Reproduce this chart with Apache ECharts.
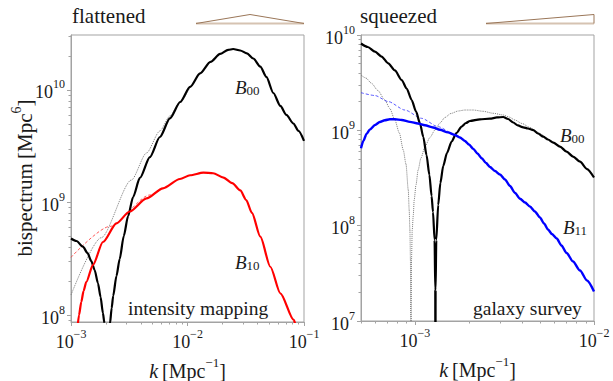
<!DOCTYPE html>
<html>
<head>
<meta charset="utf-8">
<script src="https://cdn.jsdelivr.net/npm/echarts@6.0.0/dist/echarts.min.js"></script>
<style>
html, body { margin: 0; padding: 0; background: #fff; }
#chart { width: 613px; height: 381px; }
</style>
</head>
<body>
<div id="chart"></div>
<script>
// ---- left panel: flattened, intensity mapping ----
var flatK00 = [1.000e-3, 1.114e-3, 1.265e-3, 1.387e-3, 1.493e-3, 1.596e-3, 1.704e-3, 1.795e-3, 1.879e-3, 1.936e-3,
  2.042e-3, 2.158e-3, 2.234e-3, 2.301e-3, 2.455e-3, 2.618e-3, 2.838e-3, 3.090e-3, 3.412e-3, 3.899e-3,
  4.753e-3, 5.794e-3, 7.063e-3, 8.650e-3, 1.052e-2, 1.282e-2, 1.574e-2, 1.905e-2, 2.234e-2, 2.466e-2,
  2.838e-2, 3.236e-2, 3.673e-2, 4.217e-2, 4.753e-2, 5.458e-2, 6.266e-2, 7.063e-2, 8.110e-2, 8.974e-2, 1.0e-1]
var flatB00 = [4.786e8, 4.550e8, 4.046e8, 3.556e8, 3.020e8, 2.512e8, 1.914e8, 1.445e8, 1.042e8, 0.849e8,
  1e6, 0.832e8, 1.153e8, 1.476e8, 2.223e8, 3.148e8, 5.035e8, 7.586e8, 1.119e9, 1.652e9,
  2.535e9, 3.819e9, 5.585e9, 7.816e9, 1.064e10, 1.403e10, 1.774e10, 2.089e10, 2.270e10, 2.312e10,
  2.244e10, 2.118e10, 1.905e10, 1.611e10, 1.306e10, 9.397e9, 7.211e9, 5.998e9, 5.035e9, 4.325e9, 3.524e9]
var flatK00approx = [1.0e-3, 1.816e-3, 3.304e-3, 4.446e-3, 5.794e-3, 7.063e-3, 8.650e-3, 1.052e-2]
var flatB00approx = [1.507e8, 4.864e8, 1.585e9, 2.754e9, 4.325e9, 5.875e9, 7.816e9, 1.064e10]
var flatK10 = [1.138e-3, 1.172e-3, 1.225e-3, 1.282e-3, 1.352e-3, 1.542e-3, 1.879e-3, 2.455e-3, 3.192e-3, 4.446e-3,
  6.152e-3, 8.610e-3, 1.052e-2, 1.368e-2, 1.660e-2, 2.037e-2, 2.421e-2, 2.838e-2, 3.192e-2, 3.573e-2,
  4.217e-2, 5.140e-2, 6.266e-2, 8.166e-2, 8.453e-2]
var flatB10 = [0.782e8, 1.0e8, 1.306e8, 1.633e8, 1.963e8, 2.780e8, 4.457e8, 6.531e8, 8.318e8, 1.086e9,
  1.337e9, 1.618e9, 1.746e9, 1.841e9, 1.820e9, 1.667e9, 1.489e9, 1.279e9, 1.052e9, 8.072e8,
  4.966e8, 2.685e8, 1.560e8, 0.904e8, 0.815e8]
var flatK10approx = [1.0e-3, 2.148e-3, 4.753e-3, 6.152e-3]
var flatB10approx = [3.258e8, 6.124e8, 1.167e9, 1.337e9]

// ---- right panel: squeezed, galaxy survey ----
var sqzK00 = [5.0e-4, 5.458e-4, 5.984e-4, 6.516e-4, 7.096e-4, 7.727e-4, 8.433e-4, 8.995e-4, 9.594e-4, 1.014e-3,
  1.067e-3, 1.114e-3, 1.161e-3, 1.205e-3, 1.239e-3, 1.262e-3, 1.288e-3, 1.2995e-3, 1.302e-3, 1.3045e-3,
  1.316e-3, 1.349e-3, 1.387e-3, 1.439e-3, 1.510e-3, 1.603e-3, 1.706e-3, 1.824e-3, 1.928e-3, 2.028e-3,
  2.307e-3, 2.624e-3, 2.871e-3, 3.112e-3, 3.311e-3, 3.540e-3, 3.758e-3, 4.027e-3, 4.276e-3, 4.581e-3,
  4.864e-3, 5.212e-3, 5.534e-3, 5.929e-3, 6.457e-3, 7.031e-3, 7.638e-3, 8.356e-3, 9.141e-3, 1.0e-2]
var sqzB00 = [8.147e9, 7.482e9, 6.683e9, 5.943e9, 5.047e9, 4.246e9, 3.373e9, 2.748e9, 2.080e9, 1.578e9,
  1.186e9, 8.511e8, 5.508e8, 3.396e8, 2.046e8, 1.390e8, 7.063e7, 2.113e7, 1e5, 2.113e7,
  7.063e7, 1.648e8, 2.799e8, 4.227e8, 5.781e8, 7.638e8, 9.376e8, 1.096e9, 1.194e9, 1.253e9,
  1.306e9, 1.324e9, 1.365e9, 1.380e9, 1.315e9, 1.208e9, 1.125e9, 1.076e9, 1.045e9, 1.007e9,
  9.268e8, 8.570e8, 8.017e8, 7.447e8, 6.761e8, 5.970e8, 5.309e8, 4.688e8, 3.926e8, 3.199e8]
var sqzK00approx = [5.0e-4, 5.321e-4, 5.728e-4, 6.209e-4, 6.792e-4, 7.244e-4, 7.727e-4, 8.185e-4, 8.610e-4, 8.913e-4,
  9.183e-4, 9.290e-4, 9.376e-4, 9.441e-4, 9.506e-4, 9.572e-4, 9.661e-4, 9.795e-4, 9.908e-4, 1.014e-3,
  1.042e-3, 1.081e-3, 1.138e-3, 1.213e-3, 1.294e-3, 1.380e-3, 1.472e-3, 1.589e-3, 1.746e-3, 1.901e-3,
  2.118e-3, 2.399e-3, 2.735e-3, 3.112e-3, 3.350e-3, 3.622e-3, 3.963e-3, 4.385e-3, 4.808e-3, 5.321e-3]
var sqzB00approx = [3.802e9, 3.540e9, 3.112e9, 2.618e9, 2.080e9, 1.694e9, 1.282e9, 9.376e8, 6.223e8, 4.436e8,
  2.366e8, 1.459e8, 9.016e7, 4.365e7, 1e5, 4.365e7, 9.016e7, 1.294e8, 1.858e8, 2.673e8,
  3.837e8, 5.129e8, 6.730e8, 8.414e8, 1.007e9, 1.194e9, 1.365e9, 1.503e9, 1.596e9, 1.633e9,
  1.633e9, 1.585e9, 1.510e9, 1.449e9, 1.380e9, 1.282e9, 1.180e9, 1.072e9, 9.594e8, 8.511e8]
var sqzK11 = [5.0e-4, 5.152e-4, 5.370e-4, 5.610e-4, 5.984e-4, 6.368e-4, 6.792e-4, 7.244e-4, 7.727e-4, 8.453e-4,
  9.376e-4, 1.040e-3, 1.138e-3, 1.262e-3, 1.380e-3, 1.528e-3, 1.671e-3, 1.782e-3, 1.901e-3, 2.004e-3,
  2.118e-3, 2.234e-3, 2.360e-3, 2.495e-3, 2.624e-3, 2.799e-3, 2.985e-3, 3.184e-3, 3.396e-3, 3.622e-3,
  3.864e-3, 4.121e-3, 4.385e-3, 4.677e-3, 4.989e-3, 5.260e-3, 5.534e-3, 5.821e-3, 6.194e-3, 6.577e-3,
  7.031e-3, 7.638e-3, 8.356e-3, 9.141e-3, 1.0e-2]
var sqzB11 = [6.486e8, 7.727e8, 9.162e8, 1.021e9, 1.138e9, 1.222e9, 1.276e9, 1.306e9, 1.309e9, 1.282e9,
  1.227e9, 1.178e9, 1.130e9, 1.072e9, 1.014e9, 9.528e8, 8.933e8, 8.414e8, 7.727e8, 7.096e8,
  6.397e8, 5.715e8, 5.093e8, 4.539e8, 4.121e8, 3.741e8, 3.443e8, 3.048e8, 2.606e8, 2.203e8,
  1.914e8, 1.750e8, 1.589e8, 1.409e8, 1.219e8, 1.054e8, 9.120e7, 8.166e7, 7.328e7, 6.194e7,
  5.164e7, 4.207e7, 3.381e7, 2.655e7, 2.037e7]
var sqzK11approx = [5.0e-4, 5.984e-4, 7.096e-4, 8.790e-4, 1.089e-3, 1.349e-3, 1.671e-3, 1.901e-3]
var sqzB11approx = [2.483e9, 2.317e9, 2.004e9, 1.633e9, 1.337e9, 1.091e9, 9.036e8, 7.816e8]

// ---- axes ----
var flatXRange = [1e-3, 1e-1]
var flatYRange = [0.867e8, 3.08e10]
var sqzXRange = [5e-4, 1e-2]
var sqzYRange = [1e7, 1e10]
var flatXMajor = [1e-3, 1e-2, 1e-1]
var flatYMajor = [1e8, 1e9, 1e10]
var sqzXMajor = [1e-3, 1e-2]
var sqzYMajor = [1e7, 1e8, 1e9, 1e10]

var serif = 'Liberation Serif'
var ink = '#1a1a1a'
var frame = '#a3a3a3'

function pairs (ks, bs) {
  return ks.map(function (k, i) { return [k, bs[i]] })
}

// minor ticks 2..9 x 10^n that lie inside the range
function minorTicks (range) {
  var out = []
  var lo = Math.floor(Math.log10(range[0]))
  var hi = Math.ceil(Math.log10(range[1]))
  for (var e = lo; e < hi; e++) {
    for (var m = 2; m <= 9; m++) {
      var v = m * Math.pow(10, e)
      if (v >= range[0] && v <= range[1]) out.push(v)
    }
  }
  return out
}

function powLabel (v) {
  var l = Math.log10(v)
  var e = Math.round(l)
  if (Math.abs(l - e) > 1e-6) return ''
  return '{b|10}{s|' + (e < 0 ? '\u2212' + (-e) : e) + '}'
}

var tickRich = {
  b: { fontFamily: serif, fontSize: 18, color: ink, padding: [5, 0, 0, 0] },
  s: { fontFamily: serif, fontSize: 12, color: ink, verticalAlign: 'top' }
}
var nameRich = {
  i: { fontFamily: serif, fontSize: 20, fontStyle: 'italic', color: ink, padding: [5, 0, 0, 0] },
  r: { fontFamily: serif, fontSize: 20, color: ink, padding: [5, 0, 0, 0] },
  s: { fontFamily: serif, fontSize: 13, color: ink, verticalAlign: 'top' }
}
var subRich = {
  i: { fontFamily: serif, fontSize: 19, fontStyle: 'italic', fill: ink },
  d: { fontFamily: serif, fontSize: 13, fill: ink, verticalAlign: 'bottom', padding: [6, 0, 0, 0] }
}

function mainAxis (grid, range, major, pos, extra) {
  var a = {
    type: 'log', logBase: 10, gridIndex: grid, position: pos,
    min: range[0], max: range[1],
    axisLine: { show: true, lineStyle: { color: frame, width: 1 } },
    axisTick: { show: true, inside: false, length: 4, customValues: major, lineStyle: { color: frame } },
    axisLabel: { customValues: major, formatter: powLabel, rich: tickRich, margin: 6 },
    splitLine: { show: false },
    minorTick: { show: false }
  }
  for (var key in extra) a[key] = extra[key]
  return a
}
function minorAxis (grid, range, pos) {
  return {
    type: 'log', logBase: 10, gridIndex: grid, position: pos,
    min: range[0], max: range[1],
    axisLine: { show: false },
    axisTick: { show: true, inside: false, length: 2.5, customValues: minorTicks(range), lineStyle: { color: frame } },
    axisLabel: { show: false },
    splitLine: { show: false }
  }
}

function curve (name, data, xi, yi, color, width, type) {
  return {
    name: name, type: 'line', xAxisIndex: xi, yAxisIndex: yi,
    data: data, showSymbol: false, symbol: 'none', clip: true,
    smooth: 0.25, smoothMonotone: 'x',
    lineStyle: { color: color, width: width, type: type || 'solid' },
    z: type ? 2 : 3
  }
}

var kName = '{i|k}{r|\u2009[Mpc}{s|\u22121}{r|]}'

var chart = echarts.init(document.getElementById('chart'), null, { renderer: 'svg' })
chart.setOption({
  animation: false,
  backgroundColor: '#fff',
  grid: [
    { left: 71, top: 35, width: 233, height: 287, show: true, borderColor: frame, borderWidth: 1, containLabel: false, outerBoundsMode: 'none' },
    { left: 361, top: 35, width: 233, height: 286, show: true, borderColor: frame, borderWidth: 1, containLabel: false, outerBoundsMode: 'none' }
  ],
  xAxis: [
    mainAxis(0, flatXRange, flatXMajor, 'bottom', {
      name: kName, nameLocation: 'middle', nameGap: 30, nameTextStyle: { rich: nameRich }
    }),
    minorAxis(0, flatXRange, 'bottom'),
    mainAxis(1, sqzXRange, sqzXMajor, 'bottom', {
      name: kName, nameLocation: 'middle', nameGap: 30, nameTextStyle: { rich: nameRich }
    }),
    minorAxis(1, sqzXRange, 'bottom')
  ],
  yAxis: [
    mainAxis(0, flatYRange, flatYMajor, 'left', {}),
    minorAxis(0, flatYRange, 'left'),
    mainAxis(1, sqzYRange, sqzYMajor, 'left', {}),
    minorAxis(1, sqzYRange, 'left')
  ],
  series: [
    curve('B00 approx', pairs(flatK00approx, flatB00approx), 0, 0, '#7a7a7a', 1, 'dotted'),
    curve('B10 approx', pairs(flatK10approx, flatB10approx), 0, 0, '#ff3030', 0.8, [3, 2]),
    curve('B00', pairs(flatK00, flatB00), 0, 0, '#000', 2.2),
    curve('B10', pairs(flatK10, flatB10), 0, 0, '#ff0000', 2.2),
    curve('B00 approx', pairs(sqzK00approx, sqzB00approx), 2, 2, '#7a7a7a', 1, 'dotted'),
    curve('B11 approx', pairs(sqzK11approx, sqzB11approx), 2, 2, '#3030ff', 0.8, [3, 2]),
    curve('B00', pairs(sqzK00, sqzB00), 2, 2, '#000', 2.2),
    curve('B11', pairs(sqzK11, sqzB11), 2, 2, '#0000ff', 2.4)
  ],
  graphic: [
    { type: 'text', x: 22, y: 178, rotation: Math.PI / 2, style: {
      text: '{r|bispectrum\u2009[Mpc}{s|6}{r|]}', align: 'center', verticalAlign: 'middle',
      rich: {
        r: { fontFamily: serif, fontSize: 21, fill: ink, padding: [5, 0, 0, 0] },
        s: { fontFamily: serif, fontSize: 14, fill: ink, verticalAlign: 'top' }
      } } },
    { type: 'text', left: 72, top: 5, style: { text: 'flattened', fontFamily: serif, fontSize: 21, fill: ink } },
    { type: 'text', left: 360, top: 5, style: { text: 'squeezed', fontFamily: serif, fontSize: 21, fill: ink } },
    { type: 'polyline', shape: { points: [[196, 23.5], [304, 23.5]] }, style: { stroke: '#d6c3b2', lineWidth: 2.2, fill: null } },
    { type: 'polyline', shape: { points: [[196, 23.5], [250, 14.5], [304, 23.5]] }, style: { stroke: '#9a7658', lineWidth: 1, fill: null } },
    { type: 'polyline', shape: { points: [[486, 23.5], [594, 23.5]] }, style: { stroke: '#d6c3b2', lineWidth: 2.2, fill: null } },
    { type: 'polyline', shape: { points: [[486, 23.5], [594, 14.5], [594, 23.5]] }, style: { stroke: '#9a7658', lineWidth: 1, fill: null } },
    { type: 'text', left: 235, top: 78, style: { text: '{i|B}{d|00}', rich: subRich } },
    { type: 'text', left: 235, top: 253, style: { text: '{i|B}{d|10}', rich: subRich } },
    { type: 'text', left: 128, top: 298, style: { text: 'intensity mapping', fontFamily: serif, fontSize: 19.5, fill: ink } },
    { type: 'text', left: 560, top: 126, style: { text: '{i|B}{d|00}', rich: subRich } },
    { type: 'text', left: 563, top: 218, style: { text: '{i|B}{d|11}', rich: subRich } },
    { type: 'text', left: 473, top: 298, style: { text: 'galaxy survey', fontFamily: serif, fontSize: 19.5, fill: ink } }
  ]
})
</script>
</body>
</html>
